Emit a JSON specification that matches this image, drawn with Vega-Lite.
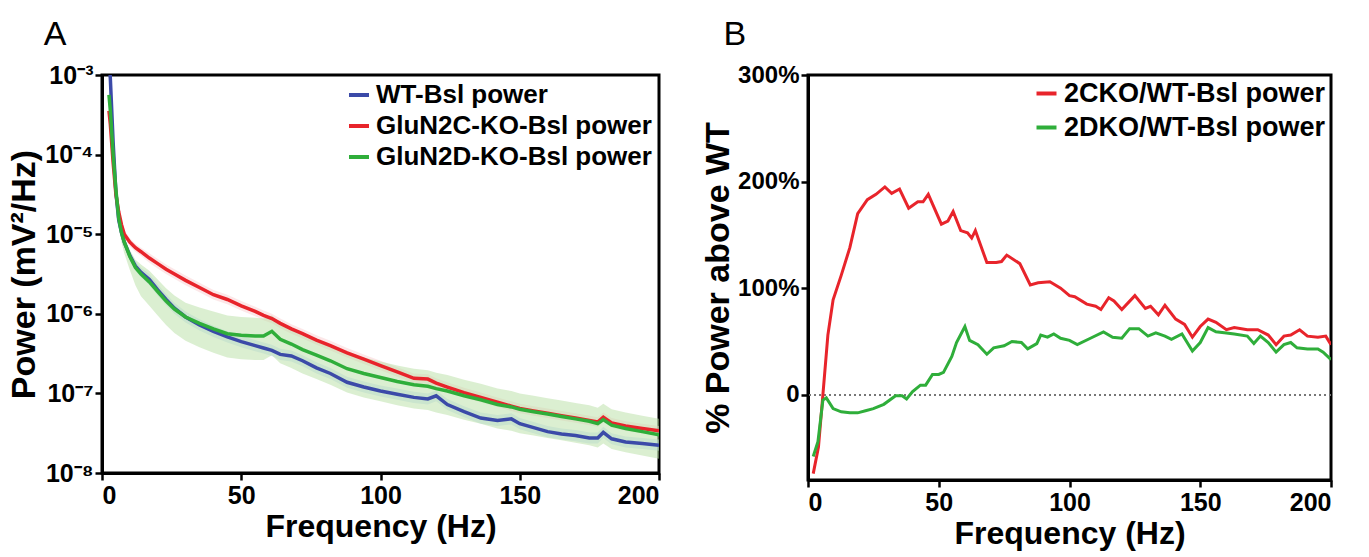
{
  "$schema": "https://vega.github.io/schema/vega-lite/v6.json",
  "background": "white",
  "padding": {"left": 6, "top": 16, "right": 5, "bottom": 2},
  "config": {
    "font": "Liberation Sans",
    "view": {"stroke": "black", "strokeWidth": 3},
    "axis": {
      "grid": false,
      "labelFont": "Liberation Sans",
      "labelFontWeight": "bold",
      "labelFontSize": 25,
      "labelColor": "black",
      "domainColor": "black",
      "domainWidth": 3,
      "tickColor": "black",
      "tickWidth": 2.5,
      "tickSize": 7,
      "titleFont": "Liberation Sans",
      "titleFontWeight": "bold",
      "titleFontSize": 34,
      "titleColor": "black"
    },
    "legend": {
      "orient": "top-right",
      "symbolType": "stroke",
      "symbolStrokeWidth": 4,
      "symbolSize": 400,
      "labelFont": "Liberation Sans",
      "labelFontWeight": "bold",
      "labelFontSize": 26,
      "labelColor": "black",
      "rowPadding": 5,
      "labelLimit": 400,
      "padding": 3,
      "offset": 4
    },
    "title": {"font": "Liberation Sans", "fontSize": 34, "fontWeight": "normal", "color": "black", "anchor": "start", "frame": "bounds"}
  },
  "spacing": 38,
  "datasets": {
    "psd": [
      {"g":"WT-Bsl power","f":2.5,"y":-2.70,"lo":-2.74,"hi":-2.66},
      {"g":"WT-Bsl power","f":3,"y":-3.05,"lo":-3.09,"hi":-3.01},
      {"g":"WT-Bsl power","f":4,"y":-3.85,"lo":-3.89,"hi":-3.81},
      {"g":"WT-Bsl power","f":5,"y":-4.48,"lo":-4.52,"hi":-4.44},
      {"g":"WT-Bsl power","f":6,"y":-4.82,"lo":-4.86,"hi":-4.78},
      {"g":"WT-Bsl power","f":7,"y":-4.98,"lo":-5.02,"hi":-4.94},
      {"g":"WT-Bsl power","f":8,"y":-5.10,"lo":-5.14,"hi":-5.06},
      {"g":"WT-Bsl power","f":10,"y":-5.27,"lo":-5.33,"hi":-5.21},
      {"g":"WT-Bsl power","f":12,"y":-5.40,"lo":-5.46,"hi":-5.34},
      {"g":"WT-Bsl power","f":14,"y":-5.48,"lo":-5.54,"hi":-5.42},
      {"g":"WT-Bsl power","f":17,"y":-5.57,"lo":-5.64,"hi":-5.50},
      {"g":"WT-Bsl power","f":20,"y":-5.70,"lo":-5.77,"hi":-5.63},
      {"g":"WT-Bsl power","f":23,"y":-5.82,"lo":-5.89,"hi":-5.75},
      {"g":"WT-Bsl power","f":26,"y":-5.93,"lo":-6.00,"hi":-5.86},
      {"g":"WT-Bsl power","f":30,"y":-6.04,"lo":-6.11,"hi":-5.97},
      {"g":"WT-Bsl power","f":35,"y":-6.14,"lo":-6.21,"hi":-6.07},
      {"g":"WT-Bsl power","f":40,"y":-6.22,"lo":-6.29,"hi":-6.15},
      {"g":"WT-Bsl power","f":45,"y":-6.29,"lo":-6.36,"hi":-6.22},
      {"g":"WT-Bsl power","f":50,"y":-6.35,"lo":-6.42,"hi":-6.28},
      {"g":"WT-Bsl power","f":55,"y":-6.40,"lo":-6.47,"hi":-6.33},
      {"g":"WT-Bsl power","f":58,"y":-6.43,"lo":-6.50,"hi":-6.36},
      {"g":"WT-Bsl power","f":61,"y":-6.46,"lo":-6.53,"hi":-6.39},
      {"g":"WT-Bsl power","f":64,"y":-6.51,"lo":-6.58,"hi":-6.44},
      {"g":"WT-Bsl power","f":68,"y":-6.53,"lo":-6.60,"hi":-6.46},
      {"g":"WT-Bsl power","f":72,"y":-6.59,"lo":-6.66,"hi":-6.52},
      {"g":"WT-Bsl power","f":77,"y":-6.68,"lo":-6.75,"hi":-6.61},
      {"g":"WT-Bsl power","f":82,"y":-6.75,"lo":-6.82,"hi":-6.68},
      {"g":"WT-Bsl power","f":88,"y":-6.86,"lo":-6.93,"hi":-6.79},
      {"g":"WT-Bsl power","f":94,"y":-6.92,"lo":-6.99,"hi":-6.85},
      {"g":"WT-Bsl power","f":100,"y":-6.97,"lo":-7.04,"hi":-6.90},
      {"g":"WT-Bsl power","f":106,"y":-7.01,"lo":-7.08,"hi":-6.94},
      {"g":"WT-Bsl power","f":112,"y":-7.05,"lo":-7.12,"hi":-6.98},
      {"g":"WT-Bsl power","f":117,"y":-7.07,"lo":-7.14,"hi":-7.00},
      {"g":"WT-Bsl power","f":120,"y":-7.03,"lo":-7.10,"hi":-6.96},
      {"g":"WT-Bsl power","f":124,"y":-7.14,"lo":-7.21,"hi":-7.07},
      {"g":"WT-Bsl power","f":130,"y":-7.23,"lo":-7.30,"hi":-7.16},
      {"g":"WT-Bsl power","f":136,"y":-7.31,"lo":-7.38,"hi":-7.24},
      {"g":"WT-Bsl power","f":142,"y":-7.34,"lo":-7.41,"hi":-7.27},
      {"g":"WT-Bsl power","f":147,"y":-7.32,"lo":-7.39,"hi":-7.25},
      {"g":"WT-Bsl power","f":150,"y":-7.38,"lo":-7.45,"hi":-7.31},
      {"g":"WT-Bsl power","f":155,"y":-7.43,"lo":-7.50,"hi":-7.36},
      {"g":"WT-Bsl power","f":160,"y":-7.48,"lo":-7.55,"hi":-7.41},
      {"g":"WT-Bsl power","f":165,"y":-7.51,"lo":-7.58,"hi":-7.44},
      {"g":"WT-Bsl power","f":170,"y":-7.53,"lo":-7.60,"hi":-7.46},
      {"g":"WT-Bsl power","f":175,"y":-7.56,"lo":-7.63,"hi":-7.49},
      {"g":"WT-Bsl power","f":178,"y":-7.56,"lo":-7.63,"hi":-7.49},
      {"g":"WT-Bsl power","f":180,"y":-7.49,"lo":-7.56,"hi":-7.42},
      {"g":"WT-Bsl power","f":183,"y":-7.57,"lo":-7.64,"hi":-7.50},
      {"g":"WT-Bsl power","f":188,"y":-7.61,"lo":-7.68,"hi":-7.54},
      {"g":"WT-Bsl power","f":194,"y":-7.63,"lo":-7.70,"hi":-7.56},
      {"g":"WT-Bsl power","f":200,"y":-7.65,"lo":-7.72,"hi":-7.58},

      {"g":"GluN2C-KO-Bsl power","f":2.5,"y":-3.45,"lo":-3.50,"hi":-3.40},
      {"g":"GluN2C-KO-Bsl power","f":3,"y":-3.62,"lo":-3.67,"hi":-3.57},
      {"g":"GluN2C-KO-Bsl power","f":4,"y":-4.10,"lo":-4.15,"hi":-4.05},
      {"g":"GluN2C-KO-Bsl power","f":5,"y":-4.50,"lo":-4.55,"hi":-4.45},
      {"g":"GluN2C-KO-Bsl power","f":6,"y":-4.72,"lo":-4.77,"hi":-4.67},
      {"g":"GluN2C-KO-Bsl power","f":7,"y":-4.88,"lo":-4.93,"hi":-4.83},
      {"g":"GluN2C-KO-Bsl power","f":8,"y":-5.00,"lo":-5.05,"hi":-4.95},
      {"g":"GluN2C-KO-Bsl power","f":10,"y":-5.10,"lo":-5.15,"hi":-5.05},
      {"g":"GluN2C-KO-Bsl power","f":12,"y":-5.17,"lo":-5.22,"hi":-5.12},
      {"g":"GluN2C-KO-Bsl power","f":14,"y":-5.22,"lo":-5.27,"hi":-5.17},
      {"g":"GluN2C-KO-Bsl power","f":17,"y":-5.30,"lo":-5.36,"hi":-5.24},
      {"g":"GluN2C-KO-Bsl power","f":20,"y":-5.37,"lo":-5.43,"hi":-5.31},
      {"g":"GluN2C-KO-Bsl power","f":23,"y":-5.44,"lo":-5.50,"hi":-5.38},
      {"g":"GluN2C-KO-Bsl power","f":26,"y":-5.50,"lo":-5.56,"hi":-5.44},
      {"g":"GluN2C-KO-Bsl power","f":30,"y":-5.58,"lo":-5.64,"hi":-5.52},
      {"g":"GluN2C-KO-Bsl power","f":35,"y":-5.67,"lo":-5.73,"hi":-5.61},
      {"g":"GluN2C-KO-Bsl power","f":40,"y":-5.76,"lo":-5.82,"hi":-5.70},
      {"g":"GluN2C-KO-Bsl power","f":45,"y":-5.82,"lo":-5.88,"hi":-5.76},
      {"g":"GluN2C-KO-Bsl power","f":50,"y":-5.90,"lo":-5.96,"hi":-5.84},
      {"g":"GluN2C-KO-Bsl power","f":55,"y":-5.97,"lo":-6.03,"hi":-5.91},
      {"g":"GluN2C-KO-Bsl power","f":58,"y":-6.02,"lo":-6.08,"hi":-5.96},
      {"g":"GluN2C-KO-Bsl power","f":61,"y":-6.06,"lo":-6.12,"hi":-6.00},
      {"g":"GluN2C-KO-Bsl power","f":64,"y":-6.12,"lo":-6.18,"hi":-6.06},
      {"g":"GluN2C-KO-Bsl power","f":68,"y":-6.19,"lo":-6.25,"hi":-6.13},
      {"g":"GluN2C-KO-Bsl power","f":72,"y":-6.25,"lo":-6.31,"hi":-6.19},
      {"g":"GluN2C-KO-Bsl power","f":77,"y":-6.33,"lo":-6.39,"hi":-6.27},
      {"g":"GluN2C-KO-Bsl power","f":82,"y":-6.40,"lo":-6.46,"hi":-6.34},
      {"g":"GluN2C-KO-Bsl power","f":88,"y":-6.49,"lo":-6.55,"hi":-6.43},
      {"g":"GluN2C-KO-Bsl power","f":94,"y":-6.57,"lo":-6.63,"hi":-6.51},
      {"g":"GluN2C-KO-Bsl power","f":100,"y":-6.65,"lo":-6.71,"hi":-6.59},
      {"g":"GluN2C-KO-Bsl power","f":106,"y":-6.73,"lo":-6.79,"hi":-6.67},
      {"g":"GluN2C-KO-Bsl power","f":112,"y":-6.81,"lo":-6.87,"hi":-6.75},
      {"g":"GluN2C-KO-Bsl power","f":117,"y":-6.82,"lo":-6.88,"hi":-6.76},
      {"g":"GluN2C-KO-Bsl power","f":120,"y":-6.87,"lo":-6.93,"hi":-6.81},
      {"g":"GluN2C-KO-Bsl power","f":124,"y":-6.92,"lo":-6.98,"hi":-6.86},
      {"g":"GluN2C-KO-Bsl power","f":130,"y":-6.99,"lo":-7.05,"hi":-6.93},
      {"g":"GluN2C-KO-Bsl power","f":136,"y":-7.05,"lo":-7.11,"hi":-6.99},
      {"g":"GluN2C-KO-Bsl power","f":142,"y":-7.11,"lo":-7.17,"hi":-7.05},
      {"g":"GluN2C-KO-Bsl power","f":147,"y":-7.16,"lo":-7.22,"hi":-7.10},
      {"g":"GluN2C-KO-Bsl power","f":150,"y":-7.19,"lo":-7.25,"hi":-7.13},
      {"g":"GluN2C-KO-Bsl power","f":155,"y":-7.22,"lo":-7.28,"hi":-7.16},
      {"g":"GluN2C-KO-Bsl power","f":160,"y":-7.25,"lo":-7.31,"hi":-7.19},
      {"g":"GluN2C-KO-Bsl power","f":165,"y":-7.28,"lo":-7.34,"hi":-7.22},
      {"g":"GluN2C-KO-Bsl power","f":170,"y":-7.31,"lo":-7.37,"hi":-7.25},
      {"g":"GluN2C-KO-Bsl power","f":175,"y":-7.34,"lo":-7.40,"hi":-7.28},
      {"g":"GluN2C-KO-Bsl power","f":178,"y":-7.36,"lo":-7.42,"hi":-7.30},
      {"g":"GluN2C-KO-Bsl power","f":180,"y":-7.30,"lo":-7.36,"hi":-7.24},
      {"g":"GluN2C-KO-Bsl power","f":183,"y":-7.37,"lo":-7.43,"hi":-7.31},
      {"g":"GluN2C-KO-Bsl power","f":188,"y":-7.41,"lo":-7.47,"hi":-7.35},
      {"g":"GluN2C-KO-Bsl power","f":194,"y":-7.44,"lo":-7.50,"hi":-7.38},
      {"g":"GluN2C-KO-Bsl power","f":200,"y":-7.47,"lo":-7.53,"hi":-7.41},

      {"g":"GluN2D-KO-Bsl power","f":2.5,"y":-3.25,"lo":-3.30,"hi":-3.20},
      {"g":"GluN2D-KO-Bsl power","f":3,"y":-3.45,"lo":-3.50,"hi":-3.40},
      {"g":"GluN2D-KO-Bsl power","f":4,"y":-4.00,"lo":-4.05,"hi":-3.95},
      {"g":"GluN2D-KO-Bsl power","f":5,"y":-4.45,"lo":-4.52,"hi":-4.40},
      {"g":"GluN2D-KO-Bsl power","f":6,"y":-4.80,"lo":-4.90,"hi":-4.74},
      {"g":"GluN2D-KO-Bsl power","f":7,"y":-4.98,"lo":-5.10,"hi":-4.92},
      {"g":"GluN2D-KO-Bsl power","f":8,"y":-5.10,"lo":-5.24,"hi":-5.03},
      {"g":"GluN2D-KO-Bsl power","f":10,"y":-5.28,"lo":-5.45,"hi":-5.20},
      {"g":"GluN2D-KO-Bsl power","f":12,"y":-5.42,"lo":-5.64,"hi":-5.32},
      {"g":"GluN2D-KO-Bsl power","f":14,"y":-5.50,"lo":-5.78,"hi":-5.38},
      {"g":"GluN2D-KO-Bsl power","f":17,"y":-5.60,"lo":-5.90,"hi":-5.46},
      {"g":"GluN2D-KO-Bsl power","f":20,"y":-5.72,"lo":-6.02,"hi":-5.57},
      {"g":"GluN2D-KO-Bsl power","f":23,"y":-5.84,"lo":-6.14,"hi":-5.68},
      {"g":"GluN2D-KO-Bsl power","f":26,"y":-5.94,"lo":-6.24,"hi":-5.77},
      {"g":"GluN2D-KO-Bsl power","f":30,"y":-6.04,"lo":-6.34,"hi":-5.86},
      {"g":"GluN2D-KO-Bsl power","f":35,"y":-6.12,"lo":-6.42,"hi":-5.92},
      {"g":"GluN2D-KO-Bsl power","f":40,"y":-6.19,"lo":-6.49,"hi":-5.97},
      {"g":"GluN2D-KO-Bsl power","f":45,"y":-6.25,"lo":-6.55,"hi":-6.02},
      {"g":"GluN2D-KO-Bsl power","f":50,"y":-6.27,"lo":-6.57,"hi":-6.04},
      {"g":"GluN2D-KO-Bsl power","f":55,"y":-6.28,"lo":-6.58,"hi":-6.05},
      {"g":"GluN2D-KO-Bsl power","f":58,"y":-6.28,"lo":-6.58,"hi":-6.06},
      {"g":"GluN2D-KO-Bsl power","f":61,"y":-6.22,"lo":-6.52,"hi":-6.02},
      {"g":"GluN2D-KO-Bsl power","f":64,"y":-6.32,"lo":-6.62,"hi":-6.12},
      {"g":"GluN2D-KO-Bsl power","f":68,"y":-6.38,"lo":-6.68,"hi":-6.18},
      {"g":"GluN2D-KO-Bsl power","f":72,"y":-6.45,"lo":-6.75,"hi":-6.25},
      {"g":"GluN2D-KO-Bsl power","f":77,"y":-6.52,"lo":-6.82,"hi":-6.32},
      {"g":"GluN2D-KO-Bsl power","f":82,"y":-6.59,"lo":-6.89,"hi":-6.39},
      {"g":"GluN2D-KO-Bsl power","f":88,"y":-6.69,"lo":-6.99,"hi":-6.49},
      {"g":"GluN2D-KO-Bsl power","f":94,"y":-6.75,"lo":-7.05,"hi":-6.55},
      {"g":"GluN2D-KO-Bsl power","f":100,"y":-6.80,"lo":-7.10,"hi":-6.60},
      {"g":"GluN2D-KO-Bsl power","f":106,"y":-6.85,"lo":-7.15,"hi":-6.65},
      {"g":"GluN2D-KO-Bsl power","f":112,"y":-6.89,"lo":-7.19,"hi":-6.69},
      {"g":"GluN2D-KO-Bsl power","f":117,"y":-6.91,"lo":-7.21,"hi":-6.71},
      {"g":"GluN2D-KO-Bsl power","f":120,"y":-6.94,"lo":-7.24,"hi":-6.74},
      {"g":"GluN2D-KO-Bsl power","f":124,"y":-6.97,"lo":-7.27,"hi":-6.77},
      {"g":"GluN2D-KO-Bsl power","f":130,"y":-7.03,"lo":-7.33,"hi":-6.83},
      {"g":"GluN2D-KO-Bsl power","f":136,"y":-7.08,"lo":-7.38,"hi":-6.88},
      {"g":"GluN2D-KO-Bsl power","f":142,"y":-7.14,"lo":-7.44,"hi":-6.94},
      {"g":"GluN2D-KO-Bsl power","f":147,"y":-7.17,"lo":-7.47,"hi":-6.97},
      {"g":"GluN2D-KO-Bsl power","f":150,"y":-7.20,"lo":-7.50,"hi":-7.00},
      {"g":"GluN2D-KO-Bsl power","f":155,"y":-7.23,"lo":-7.53,"hi":-7.03},
      {"g":"GluN2D-KO-Bsl power","f":160,"y":-7.26,"lo":-7.56,"hi":-7.06},
      {"g":"GluN2D-KO-Bsl power","f":165,"y":-7.29,"lo":-7.59,"hi":-7.09},
      {"g":"GluN2D-KO-Bsl power","f":170,"y":-7.32,"lo":-7.62,"hi":-7.12},
      {"g":"GluN2D-KO-Bsl power","f":175,"y":-7.35,"lo":-7.65,"hi":-7.15},
      {"g":"GluN2D-KO-Bsl power","f":178,"y":-7.38,"lo":-7.68,"hi":-7.18},
      {"g":"GluN2D-KO-Bsl power","f":180,"y":-7.33,"lo":-7.63,"hi":-7.13},
      {"g":"GluN2D-KO-Bsl power","f":183,"y":-7.40,"lo":-7.70,"hi":-7.20},
      {"g":"GluN2D-KO-Bsl power","f":188,"y":-7.44,"lo":-7.74,"hi":-7.24},
      {"g":"GluN2D-KO-Bsl power","f":194,"y":-7.48,"lo":-7.78,"hi":-7.28},
      {"g":"GluN2D-KO-Bsl power","f":200,"y":-7.52,"lo":-7.82,"hi":-7.32}
    ],
    "ratio": [
      {"g":"2CKO/WT-Bsl power","f":2,"p":-74},
      {"g":"2CKO/WT-Bsl power","f":4,"p":-49},
      {"g":"2CKO/WT-Bsl power","f":5.7,"p":0},
      {"g":"2CKO/WT-Bsl power","f":7.6,"p":56},
      {"g":"2CKO/WT-Bsl power","f":9.6,"p":89},
      {"g":"2CKO/WT-Bsl power","f":12.7,"p":112},
      {"g":"2CKO/WT-Bsl power","f":16,"p":138},
      {"g":"2CKO/WT-Bsl power","f":19,"p":170},
      {"g":"2CKO/WT-Bsl power","f":22.7,"p":183},
      {"g":"2CKO/WT-Bsl power","f":26,"p":188},
      {"g":"2CKO/WT-Bsl power","f":29.4,"p":195},
      {"g":"2CKO/WT-Bsl power","f":32,"p":189},
      {"g":"2CKO/WT-Bsl power","f":35,"p":193},
      {"g":"2CKO/WT-Bsl power","f":38.5,"p":175},
      {"g":"2CKO/WT-Bsl power","f":42,"p":181},
      {"g":"2CKO/WT-Bsl power","f":44,"p":181},
      {"g":"2CKO/WT-Bsl power","f":46,"p":188},
      {"g":"2CKO/WT-Bsl power","f":51,"p":160},
      {"g":"2CKO/WT-Bsl power","f":53.5,"p":163},
      {"g":"2CKO/WT-Bsl power","f":55.5,"p":172},
      {"g":"2CKO/WT-Bsl power","f":58.4,"p":154},
      {"g":"2CKO/WT-Bsl power","f":61,"p":152},
      {"g":"2CKO/WT-Bsl power","f":62.6,"p":147},
      {"g":"2CKO/WT-Bsl power","f":64,"p":154},
      {"g":"2CKO/WT-Bsl power","f":68.4,"p":124},
      {"g":"2CKO/WT-Bsl power","f":72,"p":124},
      {"g":"2CKO/WT-Bsl power","f":74,"p":125},
      {"g":"2CKO/WT-Bsl power","f":76,"p":131},
      {"g":"2CKO/WT-Bsl power","f":81,"p":123},
      {"g":"2CKO/WT-Bsl power","f":85,"p":103},
      {"g":"2CKO/WT-Bsl power","f":88,"p":105},
      {"g":"2CKO/WT-Bsl power","f":92.5,"p":106},
      {"g":"2CKO/WT-Bsl power","f":96.6,"p":100},
      {"g":"2CKO/WT-Bsl power","f":100,"p":93},
      {"g":"2CKO/WT-Bsl power","f":102,"p":92},
      {"g":"2CKO/WT-Bsl power","f":106.6,"p":85},
      {"g":"2CKO/WT-Bsl power","f":110,"p":83},
      {"g":"2CKO/WT-Bsl power","f":112,"p":80},
      {"g":"2CKO/WT-Bsl power","f":115,"p":91},
      {"g":"2CKO/WT-Bsl power","f":117,"p":88},
      {"g":"2CKO/WT-Bsl power","f":120,"p":80},
      {"g":"2CKO/WT-Bsl power","f":125,"p":93},
      {"g":"2CKO/WT-Bsl power","f":129,"p":81},
      {"g":"2CKO/WT-Bsl power","f":131,"p":83},
      {"g":"2CKO/WT-Bsl power","f":134,"p":75},
      {"g":"2CKO/WT-Bsl power","f":136.5,"p":84},
      {"g":"2CKO/WT-Bsl power","f":140.6,"p":71},
      {"g":"2CKO/WT-Bsl power","f":144,"p":66},
      {"g":"2CKO/WT-Bsl power","f":147,"p":54},
      {"g":"2CKO/WT-Bsl power","f":150,"p":64},
      {"g":"2CKO/WT-Bsl power","f":153,"p":71},
      {"g":"2CKO/WT-Bsl power","f":156,"p":68},
      {"g":"2CKO/WT-Bsl power","f":160,"p":61},
      {"g":"2CKO/WT-Bsl power","f":163,"p":63},
      {"g":"2CKO/WT-Bsl power","f":168,"p":61},
      {"g":"2CKO/WT-Bsl power","f":172,"p":61},
      {"g":"2CKO/WT-Bsl power","f":176,"p":56},
      {"g":"2CKO/WT-Bsl power","f":179,"p":47},
      {"g":"2CKO/WT-Bsl power","f":182,"p":55},
      {"g":"2CKO/WT-Bsl power","f":184.6,"p":56},
      {"g":"2CKO/WT-Bsl power","f":188,"p":61},
      {"g":"2CKO/WT-Bsl power","f":191,"p":55},
      {"g":"2CKO/WT-Bsl power","f":195,"p":54},
      {"g":"2CKO/WT-Bsl power","f":198,"p":55},
      {"g":"2CKO/WT-Bsl power","f":200,"p":47},

      {"g":"2DKO/WT-Bsl power","f":2,"p":-58},
      {"g":"2DKO/WT-Bsl power","f":3.8,"p":-44},
      {"g":"2DKO/WT-Bsl power","f":5.7,"p":-5},
      {"g":"2DKO/WT-Bsl power","f":7,"p":-3},
      {"g":"2DKO/WT-Bsl power","f":9.6,"p":-13},
      {"g":"2DKO/WT-Bsl power","f":12.7,"p":-16},
      {"g":"2DKO/WT-Bsl power","f":16,"p":-17},
      {"g":"2DKO/WT-Bsl power","f":19,"p":-17},
      {"g":"2DKO/WT-Bsl power","f":22,"p":-15},
      {"g":"2DKO/WT-Bsl power","f":25,"p":-13},
      {"g":"2DKO/WT-Bsl power","f":29,"p":-9},
      {"g":"2DKO/WT-Bsl power","f":33.5,"p":-1},
      {"g":"2DKO/WT-Bsl power","f":36,"p":-1},
      {"g":"2DKO/WT-Bsl power","f":37.7,"p":-4},
      {"g":"2DKO/WT-Bsl power","f":40,"p":3},
      {"g":"2DKO/WT-Bsl power","f":43,"p":9},
      {"g":"2DKO/WT-Bsl power","f":45,"p":9},
      {"g":"2DKO/WT-Bsl power","f":47.6,"p":19},
      {"g":"2DKO/WT-Bsl power","f":50,"p":19},
      {"g":"2DKO/WT-Bsl power","f":51.8,"p":21},
      {"g":"2DKO/WT-Bsl power","f":55,"p":36},
      {"g":"2DKO/WT-Bsl power","f":56.8,"p":49},
      {"g":"2DKO/WT-Bsl power","f":60,"p":64},
      {"g":"2DKO/WT-Bsl power","f":61.8,"p":51},
      {"g":"2DKO/WT-Bsl power","f":65,"p":47},
      {"g":"2DKO/WT-Bsl power","f":68.4,"p":38},
      {"g":"2DKO/WT-Bsl power","f":71,"p":44},
      {"g":"2DKO/WT-Bsl power","f":75,"p":46},
      {"g":"2DKO/WT-Bsl power","f":78,"p":50},
      {"g":"2DKO/WT-Bsl power","f":81.6,"p":49},
      {"g":"2DKO/WT-Bsl power","f":84,"p":43},
      {"g":"2DKO/WT-Bsl power","f":87.5,"p":48},
      {"g":"2DKO/WT-Bsl power","f":89,"p":56},
      {"g":"2DKO/WT-Bsl power","f":91.6,"p":54},
      {"g":"2DKO/WT-Bsl power","f":94,"p":57},
      {"g":"2DKO/WT-Bsl power","f":96.6,"p":53},
      {"g":"2DKO/WT-Bsl power","f":100,"p":51},
      {"g":"2DKO/WT-Bsl power","f":103,"p":47},
      {"g":"2DKO/WT-Bsl power","f":108,"p":53},
      {"g":"2DKO/WT-Bsl power","f":113,"p":59},
      {"g":"2DKO/WT-Bsl power","f":116.5,"p":54},
      {"g":"2DKO/WT-Bsl power","f":120,"p":53},
      {"g":"2DKO/WT-Bsl power","f":123,"p":62},
      {"g":"2DKO/WT-Bsl power","f":126.5,"p":62},
      {"g":"2DKO/WT-Bsl power","f":130,"p":55},
      {"g":"2DKO/WT-Bsl power","f":133,"p":58},
      {"g":"2DKO/WT-Bsl power","f":136.5,"p":55},
      {"g":"2DKO/WT-Bsl power","f":139,"p":52},
      {"g":"2DKO/WT-Bsl power","f":143,"p":57},
      {"g":"2DKO/WT-Bsl power","f":147,"p":41},
      {"g":"2DKO/WT-Bsl power","f":150,"p":49},
      {"g":"2DKO/WT-Bsl power","f":153,"p":63},
      {"g":"2DKO/WT-Bsl power","f":156,"p":59},
      {"g":"2DKO/WT-Bsl power","f":160,"p":58},
      {"g":"2DKO/WT-Bsl power","f":163,"p":57},
      {"g":"2DKO/WT-Bsl power","f":168,"p":55},
      {"g":"2DKO/WT-Bsl power","f":170.5,"p":48},
      {"g":"2DKO/WT-Bsl power","f":173,"p":55},
      {"g":"2DKO/WT-Bsl power","f":176,"p":49},
      {"g":"2DKO/WT-Bsl power","f":179,"p":40},
      {"g":"2DKO/WT-Bsl power","f":182,"p":47},
      {"g":"2DKO/WT-Bsl power","f":184.6,"p":49},
      {"g":"2DKO/WT-Bsl power","f":187,"p":44},
      {"g":"2DKO/WT-Bsl power","f":191,"p":43},
      {"g":"2DKO/WT-Bsl power","f":195,"p":43},
      {"g":"2DKO/WT-Bsl power","f":197,"p":40},
      {"g":"2DKO/WT-Bsl power","f":200,"p":33}
    ]
  },
  "hconcat": [
    {
      "width": 557,
      "height": 398,
      "title": {"text": "A", "dx": 36, "offset": 11},
      "data": {"name": "psd"},
      "layer": [
        {
          "mark": {"type": "area", "clip": true, "fillOpacity": 0.5},
          "encoding": {
            "x": {"field": "f", "type": "quantitative"},
            "y": {"field": "lo", "type": "quantitative"},
            "y2": {"field": "hi"},
            "fill": {"field": "g", "type": "nominal", "legend": null,
              "scale": {"domain": ["WT-Bsl power", "GluN2C-KO-Bsl power", "GluN2D-KO-Bsl power"], "range": ["#b9d6f2", "#f9cfd2", "#b7e0a4"]}}
          }
        },
        {
          "mark": {"type": "line", "clip": true, "strokeWidth": 3.5},
          "encoding": {
            "x": {"field": "f", "type": "quantitative",
              "scale": {"domain": [0, 200], "nice": false},
              "axis": {"values": [0, 50, 100, 150, 200], "title": "Frequency (Hz)", "titleFontSize": 32, "titlePadding": 3, "labelPadding": 3}},
            "y": {"field": "y", "type": "quantitative",
              "scale": {"domain": [-8, -3], "nice": false, "zero": false},
              "axis": {"values": [-8, -7, -6, -5, -4, -3], "title": "Power (mV²/Hz)", "titlePadding": 3, "labelPadding": 2,
                "labelExpr": "'10' + ['⁻⁸','⁻⁷','⁻⁶','⁻⁵','⁻⁴','⁻³'][datum.value + 8]"}},
            "color": {"field": "g", "type": "nominal",
              "scale": {"domain": ["WT-Bsl power", "GluN2C-KO-Bsl power", "GluN2D-KO-Bsl power"], "range": ["#3b4aa8", "#e8242b", "#2fae3a"]},
              "legend": {"title": null}}
          }
        }
      ]
    },
    {
      "width": 523,
      "height": 405,
      "title": {"text": "B", "dx": 22, "offset": 11},
      "data": {"name": "ratio"},
      "layer": [
        {
          "mark": {"type": "rule", "color": "#777777", "strokeWidth": 1.5, "strokeDash": [2, 3]},
          "encoding": {"y": {"datum": 0, "type": "quantitative"}}
        },
        {
          "mark": {"type": "line", "clip": true, "strokeWidth": 3},
          "encoding": {
            "x": {"field": "f", "type": "quantitative",
              "scale": {"domain": [0, 200], "nice": false},
              "axis": {"values": [0, 50, 100, 150, 200], "title": "Frequency (Hz)", "titleFontSize": 32, "titlePadding": 3, "labelPadding": 3}},
            "y": {"field": "p", "type": "quantitative",
              "scale": {"domain": [-80, 300], "nice": false, "zero": false},
              "axis": {"values": [0, 100, 200, 300], "title": "% Power above WT", "titlePadding": 2, "labelPadding": 2,
                "labelFontSize": 24,
                "labelExpr": "datum.value == 0 ? '0' : datum.value + '%'"}},
            "color": {"field": "g", "type": "nominal",
              "scale": {"domain": ["2CKO/WT-Bsl power", "2DKO/WT-Bsl power"], "range": ["#e8242b", "#2fae3a"]},
              "legend": {"title": null, "labelFontSize": 27, "rowPadding": 6, "offset": 2}}
          }
        }
      ]
    }
  ],
  "resolve": {"scale": {"color": "independent"}, "legend": {"color": "independent"}}
}
